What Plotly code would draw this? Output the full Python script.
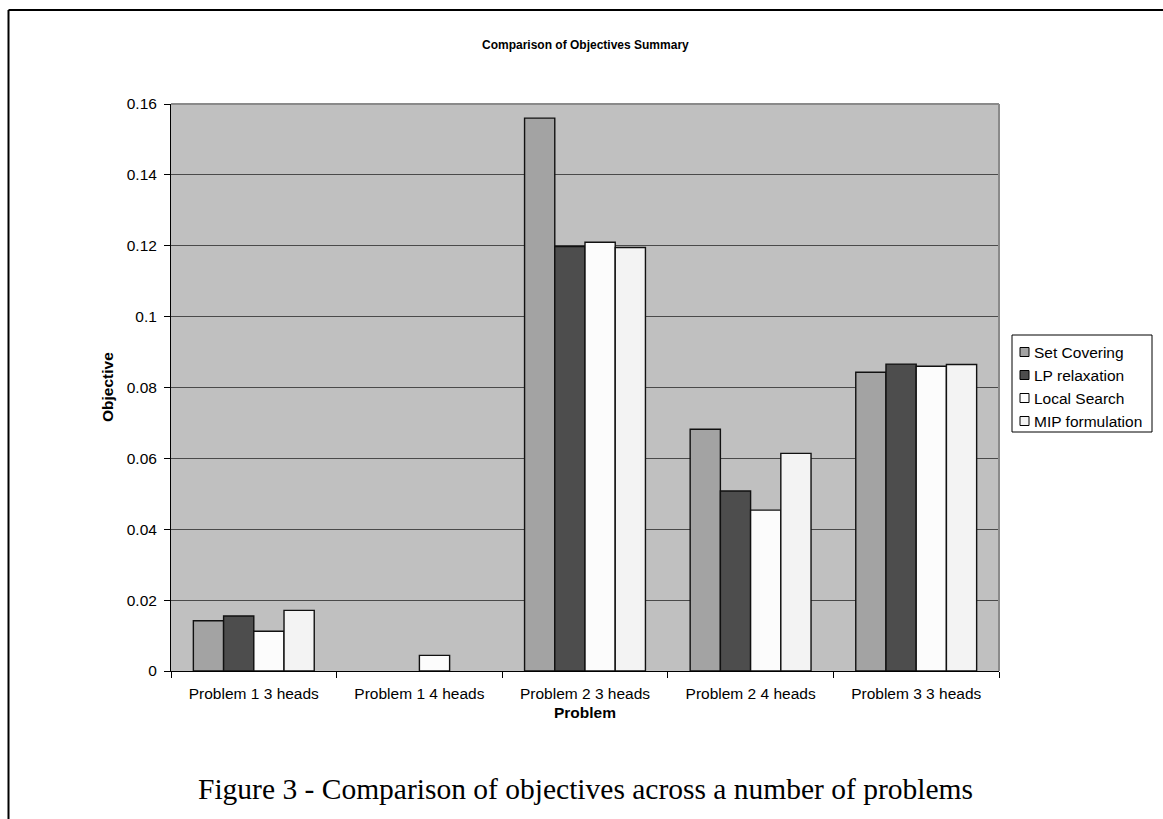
import plotly.graph_objects as go

# Problems compared and the objective reached by each method
problems = [
    "Problem 1 3 heads",
    "Problem 1 4 heads",
    "Problem 2 3 heads",
    "Problem 2 4 heads",
    "Problem 3 3 heads",
]
set_covering = [0.0142, None, 0.1560, 0.0682, 0.0843]
lp_relaxation = [0.0155, None, 0.1198, 0.0508, 0.0866]
local_search = [0.0112, 0.0044, 0.1210, 0.0454, 0.0860]
mip_formulation = [0.0171, None, 0.1195, 0.0614, 0.0865]

series_names = ["Set Covering", "LP relaxation", "Local Search", "MIP formulation"]
series_values = [set_covering, lp_relaxation, local_search, mip_formulation]
series_colors = ["#a3a3a3", "#4d4d4d", "#fcfcfc", "#f3f3f3"]

y_tick_values = [0, 0.02, 0.04, 0.06, 0.08, 0.1, 0.12, 0.14, 0.16]
y_tick_labels = ["0", "0.02", "0.04", "0.06", "0.08", "0.1", "0.12", "0.14", "0.16"]

W, H = 1163, 819
L, R, T, B = 171, 164, 104, 148
PW, PH = W - L - R, H - T - B


def px_x(x):
    return (x - L) / PW


def px_y(y):
    return (H - B - y) / PH


SANS = "Liberation Sans, Arial, sans-serif"
SERIF = "Liberation Serif, Times New Roman, serif"

fig = go.Figure()
for name, vals, col in zip(series_names, series_values, series_colors):
    fig.add_trace(go.Bar(
        x=problems, y=vals, name=name, showlegend=False,
        marker=dict(color=col, line=dict(color="#111111", width=1.4)),
    ))

fig.update_layout(
    width=W, height=H,
    margin=dict(l=L, r=R, t=T, b=B, autoexpand=False),
    paper_bgcolor="white",
    plot_bgcolor="#c0c0c0",
    barmode="group",
    bargap=0.27,
    bargroupgap=0,
    font=dict(family=SANS, size=15.5, color="black"),
    xaxis=dict(
        type="category", tickson="boundaries",
        ticks="outside", ticklen=6, tickcolor="black",
        showline=True, linecolor="black", linewidth=1,
        showgrid=False, zeroline=False, ticklabelstandoff=8,
        tickfont=dict(family=SANS, size=15.5, color="black"),
    ),
    yaxis=dict(
        range=[0, 0.16], tickvals=y_tick_values, ticktext=y_tick_labels,
        ticks="outside", ticklen=6, tickcolor="black",
        showline=True, linecolor="black", linewidth=1,
        showgrid=True, gridcolor="#4a4a4a", gridwidth=1,
        zeroline=False, ticklabelstandoff=4,
        tickfont=dict(family=SANS, size=15.5, color="black"),
    ),
)

# Plot-area border on the top and right sides
fig.add_shape(type="line", xref="paper", yref="paper", x0=0, x1=1, y0=1, y1=1,
              line=dict(color="#8a8a8a", width=2), layer="above")
fig.add_shape(type="line", xref="paper", yref="paper", x0=1, x1=1, y0=0, y1=1,
              line=dict(color="#8a8a8a", width=2), layer="above")

# Outer frame (left and top edges)
fig.add_shape(type="line", xref="paper", yref="paper",
              x0=px_x(8.5), x1=px_x(8.5), y0=px_y(10), y1=px_y(830),
              line=dict(color="black", width=2))
fig.add_shape(type="line", xref="paper", yref="paper",
              x0=px_x(8.5), x1=px_x(1175), y0=px_y(10), y1=px_y(10),
              line=dict(color="black", width=2))

# Legend box with a small swatch per series
fig.add_shape(type="rect", xref="paper", yref="paper",
              x0=px_x(1012), x1=px_x(1152), y0=px_y(432), y1=px_y(335),
              line=dict(color="black", width=1), fillcolor="white")
for i, (name, col) in enumerate(zip(series_names, series_colors)):
    cy = 352 + 23 * i
    fig.add_shape(type="rect", xref="paper", yref="paper",
                  x0=px_x(1020), x1=px_x(1029), y0=px_y(cy + 4.5), y1=px_y(cy - 4.5),
                  line=dict(color="black", width=1), fillcolor=col)
    fig.add_annotation(text=name, xref="paper", yref="paper",
                       x=px_x(1032), y=px_y(cy), xanchor="left", yanchor="middle",
                       showarrow=False, font=dict(family=SANS, size=15.5))

fig.add_annotation(text="<b>Comparison of Objectives Summary</b>",
                   xref="paper", yref="paper", x=0.5, y=px_y(45),
                   xanchor="center", yanchor="middle",
                   showarrow=False, font=dict(family=SANS, size=12))
fig.add_annotation(text="<b>Objective</b>", textangle=-90,
                   xref="paper", yref="paper", x=px_x(107), y=px_y(387),
                   xanchor="center", yanchor="middle",
                   showarrow=False, font=dict(family=SANS, size=15.5))
fig.add_annotation(text="<b>Problem</b>",
                   xref="paper", yref="paper", x=0.5, y=px_y(712),
                   xanchor="center", yanchor="middle",
                   showarrow=False, font=dict(family=SANS, size=15.5))
fig.add_annotation(text="Figure 3 - Comparison of objectives across a number of problems",
                   xref="paper", yref="paper", x=px_x(585), y=px_y(789),
                   xanchor="center", yanchor="middle",
                   showarrow=False, font=dict(family=SERIF, size=29.5))

fig.write_html("out.html")
